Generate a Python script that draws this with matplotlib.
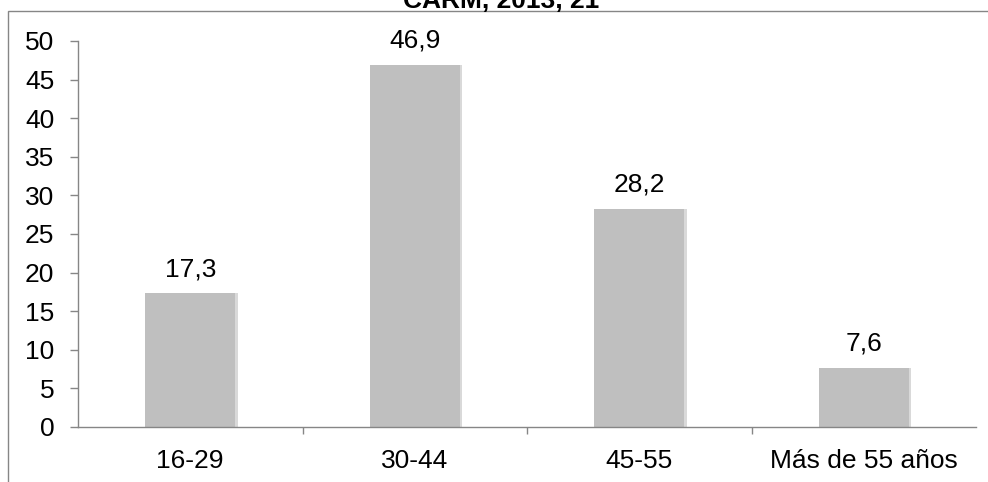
import matplotlib
matplotlib.use("Agg")
import matplotlib.pyplot as plt
from matplotlib.patches import Rectangle
from matplotlib.ticker import FixedLocator

categories = ["16-29", "30-44", "45-55", "Más de 55 años"]
values = [17.3, 46.9, 28.2, 7.6]
labels = ["17,3", "46,9", "28,2", "7,6"]
yticks = [0, 5, 10, 15, 20, 25, 30, 35, 40, 45, 50]

plt.rcParams['font.family'] = ['Liberation Sans', 'DejaVu Sans']
FS = 19

fig = plt.figure(figsize=(9.88, 4.82), dpi=100)
W, H = 988, 482

# chart area frame (cropped on top/right)
fig.patches.append(Rectangle((8 / W, -0.1), 1.2, (H - 11) / H + 0.1,
                             transform=fig.transFigure, fill=False,
                             edgecolor="#868686", linewidth=1.0))
# title, mostly cut off at top
fig.text(501 / W, 1 - 8 / H, "CARM, 2013, 21", ha="center", va="baseline",
         fontsize=19, fontweight="bold")

ax = fig.add_axes([78 / W, (H - 427) / H, (976 - 78) / W, (427 - 41) / H])
ax.set_facecolor("none")

x = range(len(categories))
# soft shadow then bar
ax.bar([i + 0.012 for i in x], values, width=0.4, color="#d9d9d9", zorder=1)
ax.bar(x, values, width=0.4, color="#bfbfbf", zorder=2)

for i, (v, t) in enumerate(zip(values, labels)):
    ax.annotate(t, (i, v), xytext=(0, 12.5), textcoords="offset points",
                ha="center", va="baseline", fontsize=FS)

ax.set_xlim(-0.5, len(categories) - 0.5)
ax.set_ylim(0, 50)
ax.set_yticks(yticks)
ax.set_yticklabels([str(t) for t in yticks], fontsize=FS)
ax.set_xticks(list(x))
ax.set_xticklabels(categories, fontsize=FS)
ax.tick_params(axis="x", length=0, pad=16)
ax.xaxis.set_minor_locator(FixedLocator([0.5, 1.5, 2.5]))
ax.tick_params(axis="x", which="minor", length=5, color="#868686", width=1)
ax.tick_params(axis="y", length=6, color="#868686", width=1, pad=11)

for s in ["top", "right"]:
    ax.spines[s].set_visible(False)
for s in ["left", "bottom"]:
    ax.spines[s].set_color("#868686")
    ax.spines[s].set_linewidth(1)

fig.savefig("out.png", dpi=100)
